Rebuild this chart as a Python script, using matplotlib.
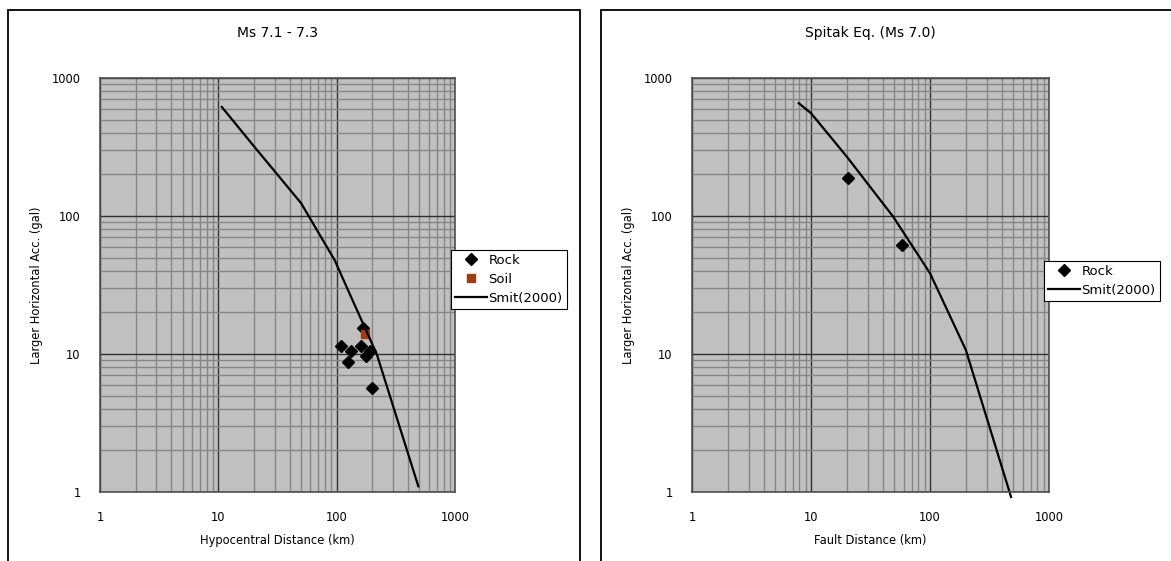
import matplotlib
matplotlib.use("Agg")
import matplotlib.pyplot as plt
from matplotlib.patches import Rectangle

# Ms 7.1 - 7.3 data (hypocentral distance km, acc gal)
rock_dist_1 = [109, 124, 133, 161, 167, 178, 190, 200]
rock_acc_1 = [11.5, 8.7, 10.5, 11.5, 15.4, 9.6, 10.5, 5.7]
soil_dist_1 = [172]
soil_acc_1 = [13.9]
smit_dist_1 = [10.7, 20, 50, 96, 136, 218, 490]
smit_acc_1 = [617, 320, 124, 48, 24.6, 10, 1.1]

# Spitak Eq. (Ms 7.0) data (fault distance km, acc gal)
rock_dist_2 = [20.6, 58.5]
rock_acc_2 = [188, 61.6]
smit_dist_2 = [7.9, 10, 20, 49, 100, 200, 480]
smit_acc_2 = [656, 556, 269, 99, 38.5, 10.7, 0.92]

titles = ["Ms 7.1 - 7.3", "Spitak Eq. (Ms 7.0)"]
xlabels = ["Hypocentral Distance (km)", "Fault Distance (km)"]
ylabel = "Larger Horizontal Acc. (gal)"
ticks = [1, 10, 100, 1000]

plt.rcParams['font.family'] = ['DejaVu Sans']
plt.rcParams['font.size'] = 8.3

W, H = 1171, 561
fig = plt.figure(figsize=(W / 100, H / 100), dpi=100)

# panel frames
for x0, x1 in [(8, 580), (601, 1190)]:
    fig.patches.append(Rectangle((x0 / W, -0.05), (x1 - x0) / W, 1.05 - 10 / H,
                                 transform=fig.transFigure, fill=False,
                                 edgecolor='black', lw=1.3))

ax1 = fig.add_axes([100 / W, 1 - 492 / H, 355 / W, 414 / H])
ax2 = fig.add_axes([692 / W, 1 - 492 / H, 357 / W, 414 / H])

for ax, title, xl in zip([ax1, ax2], titles, xlabels):
    ax.set_xscale('log')
    ax.set_yscale('log')
    ax.set_xlim(1, 1000)
    ax.set_ylim(1, 1000)
    ax.set_facecolor('#C0C0C0')
    ax.grid(True, which='minor', color='#858585', lw=1.0)
    ax.grid(True, which='major', color='#303030', lw=1.0)
    ax.set_axisbelow(True)
    ax.set_xticks(ticks)
    ax.set_yticks(ticks)
    ax.set_xticklabels([str(t) for t in ticks])
    ax.set_yticklabels([str(t) for t in ticks])
    ax.tick_params(which='both', length=0, pad=14)
    for s in ax.spines.values():
        s.set_color('#505050')
        s.set_linewidth(1.2)
    ax.set_title(title, y=1.10, pad=0)
    ax.set_xlabel(xl)
    ax.set_ylabel(ylabel)
    ax.xaxis.set_label_coords(0.5, -0.101)
    ax.yaxis.set_label_coords(-0.16, 0.5)

ax1.plot(rock_dist_1, rock_acc_1, 'D', color='black', ms=6, label='Rock')
ax1.plot(soil_dist_1, soil_acc_1, 's', color='#A33B0D', ms=6, label='Soil')
ax1.plot(smit_dist_1, smit_acc_1, '-', color='black', lw=1.6, label='Smit(2000)')

ax2.plot(rock_dist_2, rock_acc_2, 'D', color='black', ms=6, label='Rock')
ax2.plot(smit_dist_2, smit_acc_2, '-', color='black', lw=1.6,
         label='Smit(2000)', clip_on=False)

for ax, (lx, ly) in [(ax1, (451, 250)), (ax2, (1044, 261))]:
    leg = ax.legend(loc='upper left', bbox_to_anchor=(lx / W, 1 - ly / H),
                    bbox_transform=fig.transFigure, fancybox=False,
                    framealpha=1, edgecolor='black', borderpad=0.3,
                    handlelength=2.4, handletextpad=0.15, borderaxespad=0,
                    labelspacing=0.45, fontsize=9.5)
    leg.get_frame().set_linewidth(0.8)

plt.savefig('out.png', dpi=100)
